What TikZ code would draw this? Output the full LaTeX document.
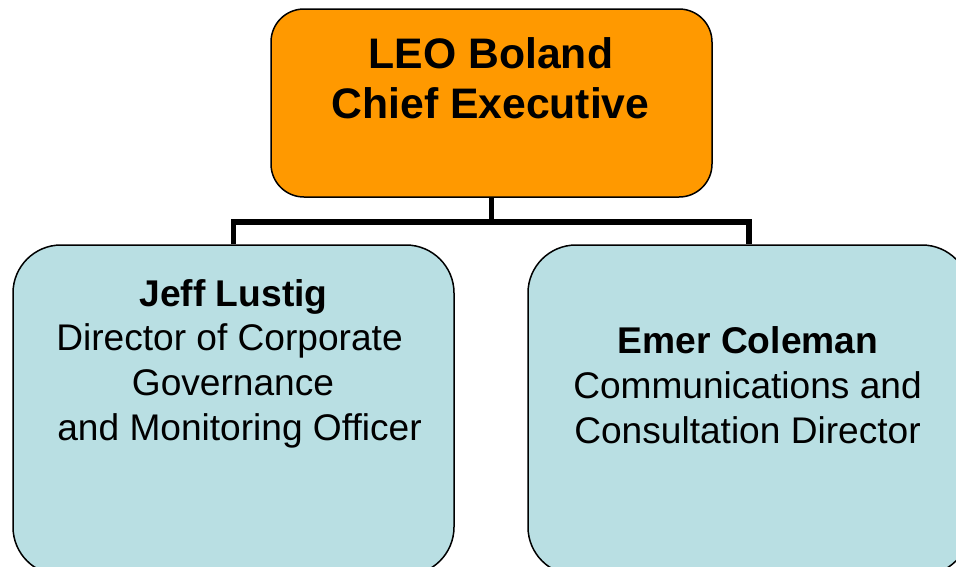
\documentclass[tikz,border=0pt]{standalone}
\usepackage{fontspec}
\setmainfont{Liberation Sans}
\definecolor{boxorange}{HTML}{FF9900}
\definecolor{boxblue}{HTML}{B9DFE3}
\begin{document}
\begin{tikzpicture}[x=1pt,y=-1pt,
  box/.style={draw=black,line width=1.5pt,rectangle,inner sep=0pt},
  conn/.style={draw=black,line width=5.5pt},
  ceotxt/.style={anchor=base,inner sep=0pt,font=\fontsize{42.7}{50}\selectfont\bfseries},
  nametxt/.style={anchor=base,inner sep=0pt,font=\fontsize{37.2}{44}\selectfont\bfseries},
  roletxt/.style={anchor=base,inner sep=0pt,font=\fontsize{37.1}{44}\selectfont}]
\useasboundingbox (0,0) rectangle (956,566);
\clip (0,0) rectangle (956,566);
\fill[white] (0,0) rectangle (956,566);
\node[box,fill=boxorange,rounded corners=33pt,minimum width=441pt,minimum height=188pt] (ceo) at (491.5,103) {};
\node[box,fill=boxblue,rounded corners=48pt,minimum width=441pt,minimum height=330pt] (jeff) at (233.5,410) {};
\node[box,fill=boxblue,rounded corners=48pt,minimum width=442pt,minimum height=330pt] (emer) at (749,410) {};
\draw[conn] (ceo.south) -- ++(0,24) coordinate (mid);
\draw[conn] (jeff.north) |- (mid) -| (emer.north);
\node[ceotxt] (t1) at (491,68) {LEO Boland};
\node[ceotxt] (t2) at (490.5,118) {Chief Executive};
\node[nametxt] (j1) at (233.5,306.5) {Jeff Lustig};
\node[roletxt] (j2) at (229.5,350) {Director of Corporate};
\node[roletxt] (j3) at (233,395) {Governance};
\node[roletxt] (j4) at (239.5,440) {and Monitoring Officer};
\node[nametxt] (e1) at (748,353) {Emer Coleman};
\node[roletxt] (e2) at (747.5,398) {Communications and};
\node[roletxt] (e3) at (747.5,443) {Consultation Director};
\end{tikzpicture}
\end{document}
